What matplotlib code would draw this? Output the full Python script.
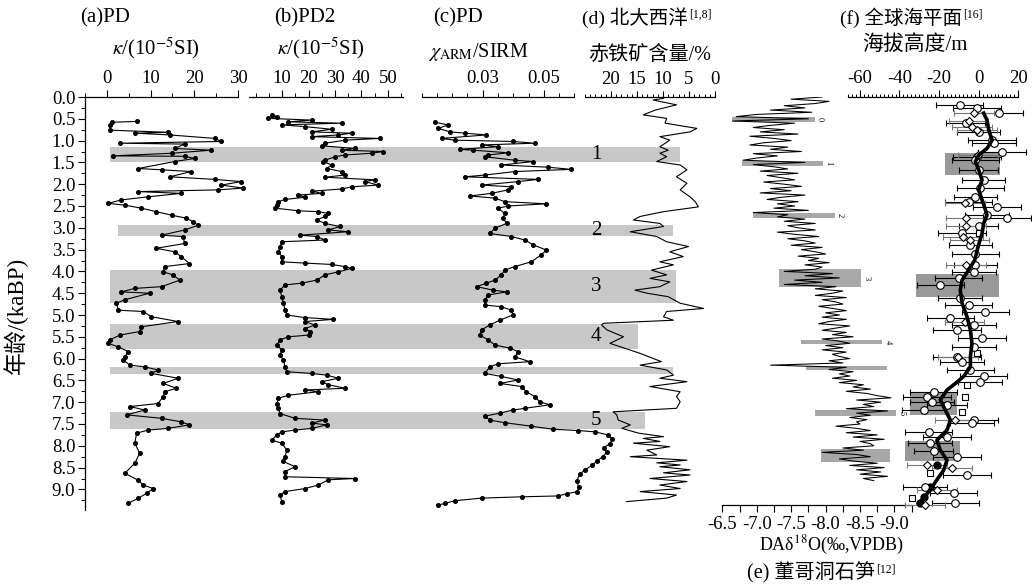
import numpy as np
import matplotlib
matplotlib.use('Agg')
import matplotlib.pyplot as plt
from matplotlib.ticker import MultipleLocator, FormatStrFormatter
from matplotlib.patches import Rectangle

plt.rcParams['font.family'] = ['Liberation Serif', 'Noto Sans CJK SC']
plt.rcParams['mathtext.fontset'] = 'stix'
plt.rcParams['axes.unicode_minus'] = False
plt.rcParams['font.size'] = 11
plt.rcParams['axes.linewidth'] = 0.9

# ************************************************************************
# Data (age in ka BP, value)
# ************************************************************************
# (a) PD magnetic susceptibility
pd_a = [(0.56, 6.8), (0.58, 1.1), (0.64, 0.7), (0.76, 0.7), (0.81, 14.0), (0.83, 6.4),
        (0.87, 14.4), (0.95, 24.7), (1.02, 26.2), (1.06, 3.0), (1.08, 17.8), (1.18, 15.5),
        (1.22, 23.9), (1.29, 14.8), (1.35, 1.4), (1.36, 17.8), (1.41, 20.1), (1.48, 15.5),
        (1.64, 7.2), (1.67, 12.5), (1.71, 19.3), (1.83, 14.4), (1.89, 24.7), (1.94, 30.7),
        (2.02, 26.2), (2.09, 31.1), (2.13, 25.4), (2.17, 7.2), (2.21, 17.0), (2.29, 9.4),
        (2.36, 3.3), (2.44, 0.3), (2.48, 4.1), (2.55, 7.9), (2.63, 11.3), (2.71, 14.8),
        (2.78, 18.2), (2.86, 19.7), (2.94, 20.9), (3.05, 17.8), (3.17, 12.5), (3.20, 17.4),
        (3.36, 17.8), (3.47, 11.3), (3.55, 15.5), (3.66, 17.0), (3.82, 18.9), (3.89, 13.2),
        (4.01, 12.9), (4.08, 15.1), (4.20, 16.7), (4.35, 12.5), (4.39, 6.4), (4.47, 3.3),
        (4.50, 9.8), (4.65, 4.1), (4.73, 2.2), (4.89, 2.6), (4.92, 8.3), (5.04, 10.2),
        (5.15, 16.3), (5.27, 7.9), (5.38, 7.5), (5.46, 3.0), (5.57, 0.7), (5.65, 0.3),
        (5.73, 2.6), (5.84, 4.9), (5.96, 4.1), (6.03, 3.7), (6.15, 5.3), (6.19, 8.7),
        (6.26, 11.7), (6.34, 10.2), (6.45, 16.3), (6.57, 12.9), (6.68, 15.9), (6.76, 13.2),
        (6.87, 12.9), (7.03, 11.7), (7.10, 5.3), (7.18, 8.7), (7.29, 4.5), (7.37, 12.5),
        (7.45, 17.0), (7.52, 18.9), (7.60, 14.0), (7.64, 9.4), (7.71, 6.8), (7.94, 6.4),
        (8.17, 7.5), (8.40, 6.4), (8.63, 4.1), (8.79, 7.2), (8.90, 8.3), (8.98, 10.6),
        (9.09, 9.1), (9.20, 7.2), (9.32, 4.9)]

# (b) PD2 magnetic susceptibility
pd_b = [(0.41, 6.1), (0.45, 8.0), (0.49, 4.8), (0.53, 21.2), (0.57, 12.4), (0.60, 32.5),
        (0.64, 9.9), (0.68, 18.7), (0.74, 28.7), (0.80, 21.2), (0.83, 36.3), (0.87, 31.3),
        (0.91, 21.2), (0.95, 47.0), (0.99, 33.8), (1.06, 26.2), (1.12, 25.0), (1.18, 37.5),
        (1.22, 32.5), (1.25, 48.2), (1.29, 43.8), (1.33, 33.8), (1.37, 30.0), (1.45, 26.2),
        (1.48, 25.6), (1.56, 28.7), (1.64, 26.9), (1.71, 32.5), (1.79, 33.8), (1.84, 26.2),
        (1.90, 45.1), (1.94, 41.3), (2.02, 46.3), (2.06, 36.3), (2.11, 32.5), (2.16, 21.2),
        (2.21, 25.0), (2.25, 16.2), (2.30, 18.7), (2.35, 11.1), (2.40, 8.6), (2.48, 8.0),
        (2.55, 7.4), (2.61, 16.2), (2.63, 23.7), (2.67, 27.5), (2.74, 26.2), (2.82, 23.1),
        (2.90, 26.2), (2.97, 31.9), (3.05, 27.5), (3.09, 35.0), (3.17, 16.8), (3.20, 23.1),
        (3.28, 26.2), (3.32, 9.9), (3.43, 9.2), (3.55, 8.6), (3.66, 9.9), (3.78, 9.9),
        (3.81, 18.7), (3.84, 28.7), (3.89, 33.8), (3.93, 36.3), (4.01, 31.3), (4.08, 26.2),
        (4.20, 23.1), (4.27, 17.4), (4.31, 11.1), (4.43, 9.2), (4.58, 9.9), (4.73, 10.5),
        (4.89, 11.1), (5.00, 11.8), (5.06, 18.7), (5.10, 29.4), (5.15, 18.7), (5.23, 22.4),
        (5.31, 18.7), (5.38, 20.6), (5.46, 20.0), (5.50, 12.4), (5.57, 9.2), (5.69, 8.0),
        (5.80, 9.9), (5.92, 9.2), (6.03, 10.5), (6.19, 11.1), (6.30, 11.8), (6.34, 21.2),
        (6.38, 26.9), (6.45, 31.3), (6.53, 25.0), (6.60, 27.5), (6.68, 33.8), (6.72, 18.7),
        (6.76, 23.7), (6.84, 12.4), (6.91, 8.6), (7.03, 8.0), (7.14, 8.6), (7.26, 9.2),
        (7.37, 14.9), (7.41, 26.2), (7.48, 21.2), (7.52, 26.9), (7.60, 21.2), (7.64, 14.9),
        (7.68, 9.9), (7.75, 8.0), (7.87, 6.1), (7.94, 9.9), (8.10, 11.8), (8.25, 11.1),
        (8.36, 10.5), (8.48, 14.9), (8.59, 11.1), (8.71, 11.1), (8.75, 37.5), (8.78, 27.5),
        (8.90, 23.7), (8.98, 18.7), (9.05, 11.1), (9.13, 9.2), (9.28, 9.9)]

# (c) PD chi_ARM/SIRM
pd_c = [(0.58, 0.0144), (0.64, 0.0187), (0.72, 0.0154), (0.80, 0.0193), (0.83, 0.0242),
        (0.87, 0.0312), (0.95, 0.0165), (0.99, 0.0209), (1.02, 0.0399), (1.06, 0.0470),
        (1.10, 0.0296), (1.14, 0.0350), (1.20, 0.0225), (1.22, 0.0269), (1.28, 0.0383),
        (1.33, 0.0318), (1.37, 0.0307), (1.45, 0.0405), (1.48, 0.0465), (1.56, 0.0361),
        (1.61, 0.0514), (1.66, 0.0590), (1.71, 0.0405), (1.79, 0.0307), (1.83, 0.0242),
        (1.89, 0.0481), (1.94, 0.0416), (2.02, 0.0296), (2.06, 0.0394), (2.13, 0.0383),
        (2.21, 0.0329), (2.27, 0.0258), (2.32, 0.0340), (2.40, 0.0372), (2.45, 0.0508),
        (2.50, 0.0383), (2.55, 0.0350), (2.67, 0.0372), (2.78, 0.0367), (2.90, 0.0378),
        (3.01, 0.0340), (3.13, 0.0323), (3.20, 0.0394), (3.28, 0.0438), (3.39, 0.0465),
        (3.51, 0.0508), (3.62, 0.0492), (3.78, 0.0459), (3.89, 0.0405), (3.97, 0.0372),
        (4.08, 0.0361), (4.20, 0.0340), (4.27, 0.0312), (4.35, 0.0280), (4.43, 0.0334),
        (4.47, 0.0378), (4.54, 0.0318), (4.66, 0.0307), (4.77, 0.0307), (4.81, 0.0361),
        (4.89, 0.0394), (5.00, 0.0399), (5.12, 0.0356), (5.23, 0.0323), (5.34, 0.0296),
        (5.46, 0.0290), (5.57, 0.0318), (5.69, 0.0340), (5.76, 0.0389), (5.84, 0.0416),
        (5.96, 0.0405), (6.07, 0.0454), (6.12, 0.0350), (6.19, 0.0323), (6.34, 0.0307),
        (6.41, 0.0361), (6.49, 0.0416), (6.57, 0.0356), (6.64, 0.0427), (6.76, 0.0443),
        (6.87, 0.0470), (6.99, 0.0487), (7.06, 0.0519), (7.14, 0.0438), (7.18, 0.0399),
        (7.25, 0.0356), (7.32, 0.0307), (7.41, 0.0323), (7.47, 0.0372), (7.55, 0.0459),
        (7.62, 0.0530), (7.65, 0.0612), (7.68, 0.0668), (7.75, 0.0710), (7.85, 0.0725),
        (7.95, 0.0716), (8.05, 0.0696), (8.15, 0.0706), (8.25, 0.0693), (8.35, 0.0674),
        (8.45, 0.0658), (8.55, 0.0635), (8.65, 0.0618), (8.80, 0.0608), (8.95, 0.0614),
        (9.05, 0.0610), (9.10, 0.0575), (9.15, 0.0547), (9.17, 0.0427), (9.20, 0.0296),
        (9.26, 0.0209), (9.32, 0.0176), (9.36, 0.0154)]

# (d) North Atlantic hematite-stained grains (%)
pd_d = [(0.03, 9.9), (0.07, 11.9), (0.18, 7.4), (0.30, 11.5), (0.41, 13.8), (0.49, 9.3),
        (0.60, 9.6), (0.72, 3.5), (0.80, 4.8), (0.91, 10.6), (0.99, 8.7), (1.14, 10.6),
        (1.22, 9.0), (1.29, 10.6), (1.37, 9.3), (1.48, 11.2), (1.56, 6.7), (1.67, 5.4),
        (1.83, 7.4), (1.98, 5.4), (2.13, 6.7), (2.29, 4.8), (2.40, 3.8), (2.52, 3.2),
        (2.63, 9.9), (2.74, 14.4), (2.82, 15.7), (2.90, 10.6), (2.97, 9.9), (3.09, 16.3),
        (3.20, 11.2), (3.32, 9.3), (3.43, 5.1), (3.55, 8.7), (3.66, 6.1), (3.78, 10.6),
        (3.85, 8.0), (3.97, 12.2), (4.08, 9.3), (4.16, 12.5), (4.24, 8.7), (4.35, 10.6),
        (4.43, 15.4), (4.50, 13.1), (4.58, 9.0), (4.73, 6.7), (4.85, 2.2), (4.92, 9.3),
        (5.04, 9.9), (5.12, 8.0), (5.19, 21.5), (5.23, 21.8), (5.34, 20.8), (5.50, 17.6),
        (5.65, 20.2), (5.88, 14.4), (6.07, 10.3), (6.15, 14.4), (6.26, 9.3), (6.38, 8.0),
        (6.45, 10.6), (6.53, 5.4), (6.64, 12.5), (6.76, 6.7), (6.87, 7.4), (6.99, 6.7),
        (7.14, 7.4), (7.22, 19.6), (7.29, 18.9), (7.41, 18.6), (7.52, 16.3), (7.60, 17.9),
        (7.71, 14.7), (7.79, 9.9), (7.83, 13.8), (7.90, 10.6), (7.94, 15.7), (8.02, 8.7),
        (8.10, 13.1), (8.21, 11.2), (8.25, 16.3), (8.33, 5.4), (8.39, 11.2), (8.44, 6.7),
        (8.48, 10.6), (8.55, 4.8), (8.62, 9.9), (8.67, 4.8), (8.75, 12.5), (8.82, 5.4),
        (8.90, 10.6), (8.98, 6.7), (9.05, 14.4), (9.13, 7.4), (9.20, 9.3), (9.28, 17.0)]

# (e) Dongge Cave stalagmite d18O (permil), 0 - 8.8 ka at even spacing
e_val = [-7.95, -7.50, -8.05, -7.85, -7.40, -7.70, -7.20, -7.80, -7.00, -6.70,
         -7.75, -6.65, -7.55, -7.20, -6.95, -7.40, -7.05, -7.60, -6.90, -7.25,
         -7.50, -7.10, -6.90, -7.45, -7.20, -7.65, -6.95, -7.30, -7.00, -6.80,
         -7.70, -6.95, -7.25, -7.45, -7.05, -7.60, -7.15, -7.35, -7.55, -7.10,
         -7.40, -7.65, -7.20, -7.50, -7.05, -7.70, -7.35, -7.15, -7.60, -7.30,
         -7.55, -7.25, -7.75, -6.95, -7.45, -7.30, -7.70, -7.40, -7.85, -7.45,
         -7.60, -7.85, -7.30, -7.55, -7.90, -7.45, -7.70, -7.85, -7.50, -7.95,
         -7.65, -7.85, -8.00, -7.60, -7.90, -7.75, -8.05, -7.70, -7.95, -7.85,
         -7.40, -8.10, -7.70, -8.20, -7.55, -7.95, -7.40, -8.15, -7.85, -8.25,
         -8.10, -7.85, -8.30, -7.95, -8.15, -8.25, -7.90, -8.10, -8.30, -8.00,
         -8.20, -7.95, -8.30, -8.05, -7.90, -8.35, -8.15, -7.95, -8.30, -8.10,
         -8.40, -7.95, -8.20, -8.35, -8.00, -8.25, -7.95, -8.30, -8.10, -8.20,
         -8.35, -8.05, -8.25, -7.20, -8.30, -8.05, -8.40, -8.20, -8.35, -8.10,
         -8.45, -8.20, -8.55, -8.40, -8.65, -8.30, -8.60, -8.75, -8.95, -8.45,
         -8.80, -8.55, -8.70, -8.30, -8.90, -8.45, -8.65, -8.35, -8.60, -8.45,
         -8.50, -8.15, -8.45, -8.65, -8.30, -8.75, -8.40, -8.85, -8.50, -8.65,
         -8.70, -8.25, -8.55, -7.95, -8.45, -8.65, -8.20, -8.40, -8.75, -8.35,
         -8.85, -8.45, -8.80, -8.50, -8.90, -8.55, -8.70]
e_age = np.linspace(0.0, 8.8, len(e_val))

# (f) global sea level (m): smoothed curve and individual indicators
f_line_age = [0.37, 0.53, 0.76, 0.99, 1.18, 1.33, 1.48, 1.67, 1.90, 2.13, 2.36, 2.59, 2.71, 2.90,
              3.13, 3.43, 3.74, 3.97, 4.20, 4.43, 4.73, 5.04, 5.34, 5.65, 5.96, 6.19, 6.41, 6.57,
              6.72, 6.95, 7.18, 7.41, 7.64, 7.87, 8.10, 8.33, 8.56, 8.78, 9.01, 9.20, 9.32]
f_line_val = [2.5, 4.2, 5.1, 6.8, 4.2, 0.0, -1.7, 0.0, 1.7, 0.0, 1.7, 3.4, 4.2, 2.5,
              1.7, -0.3, -2.0, -5.1, -8.4, -9.3, -8.4, -5.9, -4.2, -3.4, -4.2, -4.2, -7.6, -11.8,
              -16.0, -19.4, -16.9, -14.3, -16.0, -21.1, -19.4, -16.0, -17.7, -21.1, -24.5, -27.8, -30.4]
f_circ_age = [0.18, 0.26, 0.37, 0.60, 0.80, 0.99, 1.06, 1.25, 1.37, 1.45, 1.67, 1.90, 2.09, 2.29,
              2.40, 2.52, 2.71, 2.78, 2.97, 3.13, 3.39, 3.59, 3.85, 4.01, 4.16, 4.31, 4.62, 4.77,
              4.92, 5.08, 5.23, 5.34, 5.53, 5.73, 5.96, 6.07, 6.26, 6.41, 6.53, 6.76, 6.87, 6.99,
              7.06, 7.18, 7.41, 7.48, 7.68, 7.79, 7.94, 8.13, 8.25, 8.67, 8.94, 9.09, 9.32]
f_circ_val = [-9.6, -0.8, 10.2, -6.6, 0.0, 6.8, 7.6, 11.8, -0.8, -1.7, 0.0, 2.5, 0.8, -1.7,
              -5.1, 9.3, 4.2, 14.3, 0.0, -8.4, -4.2, -1.7, -1.7, -2.5, -10.1, -19.4, -9.3, -5.1,
              3.4, -14.3, -2.5, -11.0, 1.7, -2.5, -11.0, -8.4, -4.2, 2.5, 0.8, -22.8, -26.1, -23.6,
              -16.0, -27.8, -2.5, -3.4, -25.3, -16.0, -24.5, -22.8, -11.0, -5.9, -27.0, -12.7, -11.8]
f_circ_err = [12, 12, 12, 10, 11, 12, 11, 12, 12, 12, 10, 11, 12, 11,
              12, 12, 11, 12, 10, 12, 11, 12, 11, 11, 12, 12, 11, 12,
              12, 12, 11, 12, 12, 11, 12, 11, 12, 12, 11, 12, 12, 11,
              10, 11, 12, 11, 12, 12, 11, 10, 12, 12, 11, 12, 12]
f_diam_age = [0.37, 0.56, 0.68, 0.76, 1.33, 2.44, 2.78, 2.97, 3.20, 3.28, 3.85, 5.15, 5.96, 7.41,
              8.44, 8.52, 9.01, 9.36]
f_diam_val = [-2.5, -5.1, -3.4, -0.8, -0.3, -6.8, -6.3, -6.3, -8.0, -4.6, -6.3, -7.1, -10.5, -12.2,
              -26.1, -13.5, -21.0, -27.0]
f_sq_age = [3.13, 5.88, 6.60, 6.87, 7.22, 8.63, 9.20]
f_sq_val = [0.0, -0.8, -5.9, -6.8, -8.4, -24.5, -33.8]
f_dot_age = [8.44, 8.94, 9.17, 9.32]
f_dot_val = [-21.0, -24.5, -27.8, -29.5]

# shaded events: common bands across (a)-(d)
band_top = [1.14, 2.94, 3.97, 5.21, 6.19, 7.22]
band_bot = [1.48, 3.19, 4.73, 5.78, 6.35, 7.62]
band_lab = ['1', '2', '3', '4', '', '5']
# bands of (e) in permil
e_band_top = [0.45, 1.46, 2.65, 3.95, 5.57, 6.17, 7.18, 8.08]
e_band_bot = [0.57, 1.58, 2.77, 4.36, 5.67, 6.26, 7.32, 8.37]
e_band_lo = [-6.64, -6.78, -6.94, -7.33, -7.64, -7.72, -7.84, -7.93]
e_band_hi = [-7.84, -7.96, -8.13, -8.51, -8.82, -8.89, -9.02, -8.94]
e_band_lab = ['0', '1', '2', '3', '4', '', '5', '']
# bands of (f) in m
f_band_top = [1.29, 4.06, 6.80, 7.90]
f_band_bot = [1.80, 4.58, 7.29, 8.36]
f_band_lo = [-16.9, -31.6, -34.6, -37.1]
f_band_hi = [11.0, 10.1, -10.9, -9.3]

# ************************************************************************
# Layout helpers (pixel based)
# ************************************************************************
W, H = 1032, 585
Y0, PXK = 97, 43.6   # pixel row of age 0 and pixels per ka
TICK_FS = 13.5


def age_at(py):
    return (py - Y0) / PXK


fig = plt.figure(figsize=(W / 100, H / 100), dpi=100)


def px_axes(x0, x1, y0, y1):
    ax = fig.add_axes([x0 / W, 1 - y1 / H, (x1 - x0) / W, (y1 - y0) / H])
    ax.set_facecolor('none')
    ax.set_ylim(age_at(y1), 0)
    return ax


def ptext(x, y, s, **kw):
    kw.setdefault('ha', 'left')
    kw.setdefault('va', 'center')
    return fig.text(x / W, 1 - y / H, s, **kw)


def sup_after(t, s):
    # small bracketed reference placed right after a title
    fig.canvas.draw()
    bb = t.get_window_extent()
    fig.text((bb.x1 + 1) / W, (bb.y1 - 1) / H, s, fontsize=8.5, ha='left', va='top')


def top_only(ax):
    for s in ['bottom', 'right', 'left']:
        ax.spines[s].set_visible(False)
    ax.xaxis.set_ticks_position('top')
    ax.xaxis.set_label_position('top')
    ax.tick_params(axis='x', which='major', direction='out', length=5, width=0.8,
                   pad=2.5, labelsize=TICK_FS)
    ax.tick_params(axis='x', which='minor', direction='out', length=3, width=0.7)
    ax.tick_params(axis='y', left=False, labelleft=False)


# background layer for the shared bands
bg = fig.add_axes([0, 0, 1, 1])
bg.set_xlim(0, W)
bg.set_ylim(age_at(H), age_at(0))
bg.axis('off')
band_x0 = [110, 118, 110, 110, 110, 110]
band_x1 = [680, 673, 676, 638, 673, 645]
for t, b, x0, x1, lab in zip(band_top, band_bot, band_x0, band_x1, band_lab):
    bg.add_patch(Rectangle((x0, t), x1 - x0, b - t, facecolor='#c8c8c8', lw=0))
    if lab:
        bg.text(596, (t + b) / 2, lab, fontsize=15, ha='center', va='center')

# ---------------- (a)
ax = px_axes(85, 238, 97, 510)
top_only(ax)
ax.spines['left'].set_visible(True)
ax.set_xlim(-5, 30)
ax.xaxis.set_major_locator(MultipleLocator(10))
ax.xaxis.set_minor_locator(MultipleLocator(5))
ax.set_yticks(np.arange(0, 9.01, 0.5))
ax.yaxis.set_minor_locator(MultipleLocator(0.25))
ax.yaxis.set_major_formatter(FormatStrFormatter('%.1f'))
ax.tick_params(axis='y', left=True, labelleft=True, direction='out', length=5, width=0.8,
               pad=2, labelsize=TICK_FS)
ax.tick_params(axis='y', which='minor', direction='out', length=3, width=0.7)
a_age, a_val = np.array(pd_a).T
ax.plot(a_val, a_age, '-', color='k', lw=0.8, marker='o', ms=2.6, clip_on=False)

# ---------------- (b)
ax = px_axes(249, 403, 97, 510)
top_only(ax)
ax.set_xlim(-2.5, 55.7)
ax.set_xticks([10, 20, 30, 40, 50])
ax.xaxis.set_minor_locator(MultipleLocator(5))
b_age, b_val = np.array(pd_b).T
ax.plot(b_val, b_age, '-', color='k', lw=0.8, marker='o', ms=2.6, clip_on=False)

# ---------------- (c)
ax = px_axes(421.7, 574.3, 97, 510)
top_only(ax)
ax.set_xlim(0.01, 0.06)
ax.set_xticks([0.03, 0.05])
ax.xaxis.set_major_formatter(FormatStrFormatter('%.2f'))
ax.xaxis.set_minor_locator(MultipleLocator(0.005))
c_age, c_val = np.array(pd_c).T
ax.plot(c_val, c_age, '-', color='k', lw=0.8, marker='o', ms=2.6, clip_on=False, zorder=5)

# ---------------- (d)
ax = px_axes(585, 715, 97, 510)
top_only(ax)
ax.set_xlim(25, 0)
ax.set_xticks([20, 15, 10, 5, 0])
ax.xaxis.set_minor_locator(MultipleLocator(1))
ax.tick_params(axis='x', which='major', length=4)
ax.tick_params(axis='x', which='minor', length=2)
d_age, d_val = np.array(pd_d).T
ax.plot(d_val, d_age, '-', color='k', lw=0.8)

# ---------------- (e)
ax = px_axes(722.3, 911.7, 97, 505)
for s in ['top', 'right', 'left']:
    ax.spines[s].set_visible(False)
ax.set_xlim(-6.5, -9.25)
ax.set_xticks([-6.5, -7.0, -7.5, -8.0, -8.5, -9.0])
ax.xaxis.set_major_formatter(FormatStrFormatter('%.1f'))
ax.xaxis.set_minor_locator(MultipleLocator(0.25))
ax.tick_params(axis='x', which='both', direction='out', length=5, width=0.8, pad=3,
               labelsize=TICK_FS)
ax.tick_params(axis='y', left=False, labelleft=False)
for t, b, lo, hi, lab in zip(e_band_top, e_band_bot, e_band_lo, e_band_hi, e_band_lab):
    ax.add_patch(Rectangle((lo, t), hi - lo, b - t, facecolor='#a8a8a8', lw=0))
    if lab:
        ax.text(hi - 0.08, (t + b) / 2, lab, fontsize=6, rotation=-90, ha='center', va='center')
ax.plot(e_val, e_age, '-', color='k', lw=0.75)

# ---------------- (f)
ax = px_axes(848, 1018.3, 97, 510)
top_only(ax)
ax.set_xlim(-66, 20)
ax.set_xticks([-60, -40, -20, 0, 20])
ax.xaxis.set_minor_locator(MultipleLocator(2))
ax.tick_params(axis='x', which='minor', length=2.5)
for t, b, lo, hi in zip(f_band_top, f_band_bot, f_band_lo, f_band_hi):
    ax.add_patch(Rectangle((lo, t), hi - lo, b - t, facecolor='#999999', lw=0))
ax.errorbar(f_circ_val, f_circ_age, xerr=f_circ_err, fmt='o', ms=5.5, mfc='white', mec='k',
            mew=0.8, ecolor='k', elinewidth=0.8, capsize=2.5, capthick=0.8, clip_on=False)
ax.errorbar(f_diam_val, f_diam_age, xerr=10, fmt='D', ms=4.5, mfc='white', mec='k',
            mew=0.8, ecolor='#777777', elinewidth=0.8, capsize=2.5, capthick=0.8, clip_on=False)
ax.plot(f_sq_val, f_sq_age, 's', ms=5, mfc='white', mec='k', mew=0.8, clip_on=False)
ax.plot(f_dot_val, f_dot_age, 'o', ms=5, color='k', clip_on=False)
ax.plot(f_line_val, f_line_age, '-', color='k', lw=2.6, solid_joinstyle='round', zorder=4)

# ************************************************************************
# Labels
# ************************************************************************
ptext(80, 18, '(a)PD', fontsize=15)
ptext(274, 18, '(b)PD2', fontsize=15)
ptext(433, 18, '(c)PD', fontsize=15)
t_d = ptext(582, 18, '(d) 北大西洋', fontsize=14)
t_f = ptext(840, 18, '(f) 全球海平面', fontsize=14)
ptext(112, 48, r'$\kappa$/(10$^{-5}$SI)', fontsize=15)
ptext(277, 48, r'$\kappa$/(10$^{-5}$SI)', fontsize=15)
ptext(428, 52, r'$\chi_{\mathrm{ARM}}$/SIRM', fontsize=14.5)
ptext(588, 55, '赤铁矿含量/%', fontsize=14.5)
ptext(862, 45, '海拔高度/m', fontsize=15)
ptext(831, 545, r'DAδ$^{18}$O(‰,VPDB)', ha='center', fontsize=13)
t_e = ptext(747, 573, '(e) 董哥洞石笋', fontsize=14.5)
ptext(16, 315, '年龄/(kaBP)', rotation=90, ha='center', fontsize=16.5)
sup_after(t_d, '[1,8]')
sup_after(t_f, '[16]')
sup_after(t_e, '[12]')

fig.savefig('out.png', dpi=100)
